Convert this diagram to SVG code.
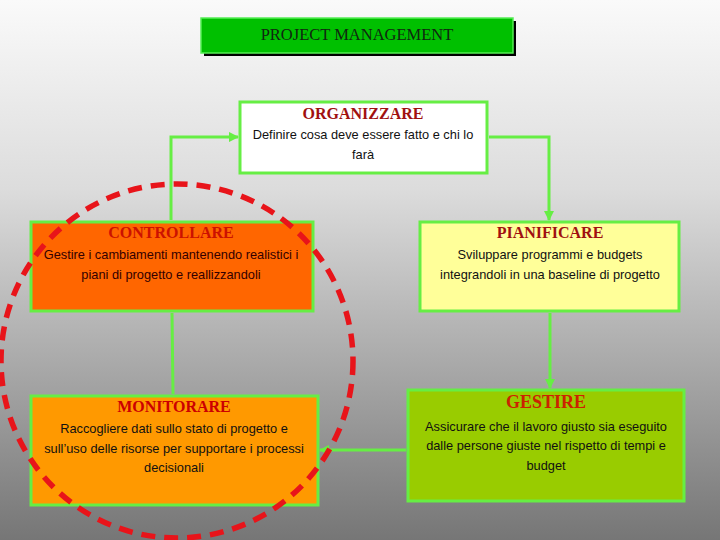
<svg xmlns="http://www.w3.org/2000/svg" width="720" height="540" viewBox="0 0 720 540">
<defs>
<linearGradient id="bg" x1="0" y1="0" x2="0" y2="1">
<stop offset="0" stop-color="#fafafa"/>
<stop offset="0.35" stop-color="#dcdcdc"/>
<stop offset="1" stop-color="#767676"/>
</linearGradient>
<marker id="arr" viewBox="0 0 10 10" refX="9" refY="5" markerWidth="3.5" markerHeight="3.5" orient="auto" markerUnits="strokeWidth">
<path d="M0,0 L10,5 L0,10 z" fill="#66ee44"/>
</marker>
<style>
.box{stroke:#66ee44;stroke-width:3}
.ttl{font-family:"Liberation Serif",serif;font-weight:bold;font-size:16px;text-anchor:middle}
.txt{font-family:"Liberation Sans",sans-serif;font-size:12.8px;text-anchor:middle;fill:#111}
.con{fill:none;stroke:#66ee44;stroke-width:3}
</style>
</defs>
<rect width="720" height="540" fill="url(#bg)"/>

<g id="title">
<rect x="204" y="21" width="312" height="35" fill="#000"/>
<rect x="201" y="18" width="312" height="35" fill="#00c000" stroke="#55ee55" stroke-width="1.5"/>
<text x="357" y="36" font-family="Liberation Serif, serif" font-size="16.5" fill="#102810" text-anchor="middle" dominant-baseline="middle">PROJECT MANAGEMENT</text>
</g>

<g id="organizzare">
<rect class="box" x="240" y="102" width="247" height="71" fill="#ffffff"/>
<text class="ttl" x="363" y="119" fill="#a01010">ORGANIZZARE</text>
<text class="txt" x="363" y="139">Definire cosa deve essere fatto e chi lo</text>
<text class="txt" x="363" y="159">farà</text>
</g>

<g id="controllare">
<rect class="box" x="31" y="222" width="282" height="89" fill="#ff6600"/>
<text class="ttl" x="171" y="238" fill="#cc1100" style="font-weight:600">CONTROLLARE</text>
<text class="txt" x="171" y="259" style="fill:#330000">Gestire i cambiamenti mantenendo realistici i</text>
<text class="txt" x="171" y="279" style="fill:#330000">piani di progetto e reallizzandoli</text>
</g>

<g id="pianificare">
<rect class="box" x="420" y="222" width="259" height="89" fill="#ffff99"/>
<text class="ttl" x="550" y="238" fill="#a01010">PIANIFICARE</text>
<text class="txt" x="550" y="259">Sviluppare programmi e budgets</text>
<text class="txt" x="550" y="279">integrandoli in una baseline di progetto</text>
</g>

<g id="monitorare">
<rect class="box" x="31" y="396" width="287" height="109" fill="#ff9900"/>
<text class="ttl" x="174" y="412" fill="#cc0000">MONITORARE</text>
<text class="txt" x="174" y="433">Raccogliere dati sullo stato di progetto e</text>
<text class="txt" x="174" y="453">sull’uso delle risorse per supportare i processi</text>
<text class="txt" x="174" y="472">decisionali</text>
</g>

<g id="gestire">
<rect class="box" x="408" y="390" width="276" height="111" fill="#99cc00"/>
<text class="ttl" x="546" y="408" fill="#cc2200" style="font-size:18px;font-weight:600">GESTIRE</text>
<text class="txt" x="546" y="431">Assicurare che il lavoro giusto sia eseguito</text>
<text class="txt" x="546" y="450">dalle persone giuste nel rispetto di tempi e</text>
<text class="txt" x="546" y="470">budget</text>
</g>

<g id="connectors">
<polyline class="con" points="171,220 171,137 238,137" marker-end="url(#arr)"/>
<polyline class="con" points="489,137 549,137 549,220" marker-end="url(#arr)"/>
<line class="con" x1="550" y1="313" x2="550" y2="388" marker-end="url(#arr)"/>
<line class="con" x1="406" y1="450" x2="320" y2="450" marker-end="url(#arr)"/>
<line class="con" x1="173" y1="394" x2="172" y2="313"/>
</g>

<g id="cycle">
<ellipse cx="177" cy="361" rx="176" ry="177" fill="none" stroke="#e8141a" stroke-width="5.5" stroke-dasharray="14 9"/>
</g>
</svg>
